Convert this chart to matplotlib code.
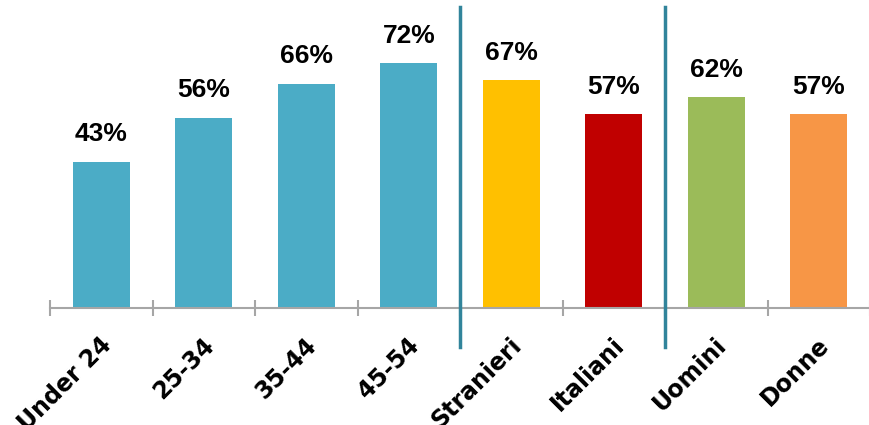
import numpy as np
import matplotlib
matplotlib.use("Agg")
import matplotlib.pyplot as plt
from matplotlib.ticker import FixedLocator
from matplotlib.transforms import offset_copy

# percentuali per gruppo
categorie = ["Under 24", "25-34", "35-44", "45-54", "Stranieri", "Italiani", "Uomini", "Donne"]
valori = [43, 56, 66, 72, 67, 57, 62, 57]
colori = ["#4BACC6", "#4BACC6", "#4BACC6", "#4BACC6", "#FFC000", "#C00000", "#9BBB59", "#F79646"]
separatori = [3.5, 5.5]

fig = plt.figure(figsize=(8.69, 4.25), dpi=100)
ax = fig.add_axes([50 / 869, 117 / 425, 820 / 869, 301 / 425])

x = np.arange(len(categorie))
ax.bar(x, valori, width=0.56, color=colori, zorder=2)

for xi, v in zip(x, valori):
    ax.annotate(f"{v}%", (xi, v), xytext=(0, 11), textcoords="offset points",
                ha="center", va="bottom", fontsize=19, fontweight="bold",
                family="Liberation Sans", color="black")

ax.set_xlim(-0.5, 7.5)
ax.set_ylim(0, 88.5)

for s in ["top", "right", "left"]:
    ax.spines[s].set_visible(False)
ax.spines["bottom"].set_color("#A6A6A6")
ax.spines["bottom"].set_linewidth(1.5)
ax.set_yticks([])

# tacche ai confini delle categorie
ax.set_xticks(x)
ax.xaxis.set_minor_locator(FixedLocator(np.arange(-0.5, 8, 1)))
ax.tick_params(axis="x", which="major", length=0, pad=24)
ax.tick_params(axis="x", which="minor", length=12, width=1.5, color="#A6A6A6", direction="inout")
ax.set_xticklabels(categorie, rotation=45, ha="right", va="center", rotation_mode="anchor",
                   fontsize=17, fontweight="bold", family="DejaVu Sans")
for lbl in ax.get_xticklabels():
    lbl.set_transform(offset_copy(lbl.get_transform(), fig=fig, x=7, y=0, units="dots"))

for sx in separatori:
    ax.axvline(sx, ymin=-0.13, ymax=1.0, color="#31849B", linewidth=2.5, clip_on=False, zorder=3)

fig.savefig("out.png", dpi=100)
